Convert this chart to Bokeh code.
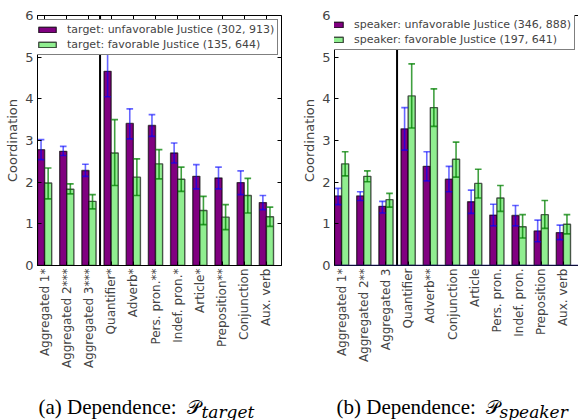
import numpy as np
from bokeh.plotting import figure
from bokeh.models import (Range1d, LinearAxis, FixedTicker, Span, ColumnDataSource,
                          Legend, LegendItem)
from bokeh.layouts import column, row
from bokeh.embed import file_html
from bokeh.resources import INLINE
from bokeh.core.properties import value

# ---------------- data ----------------
target_categories = ["Aggregated 1*", "Aggregated 2***", "Aggregated 3***", "Quantifier*",
                     "Adverb*", "Pers. pron.**", "Indef. pron.*", "Article*",
                     "Preposition**", "Conjunction", "Aux. verb"]
target_unfav = [2.78, 2.74, 2.28, 4.66, 3.41, 3.36, 2.70, 2.14, 2.10, 1.99, 1.51]
target_unfav_lo = [2.54, 2.64, 2.14, 4.05, 3.04, 3.10, 2.46, 1.84, 1.84, 1.70, 1.34]
target_unfav_hi = [3.02, 2.86, 2.43, 5.27, 3.76, 3.62, 2.94, 2.42, 2.36, 2.27, 1.68]
target_fav = [1.98, 1.83, 1.54, 2.70, 2.12, 2.44, 2.07, 1.32, 1.16, 1.68, 1.17]
target_fav_lo = [1.60, 1.72, 1.36, 1.92, 1.68, 2.08, 1.78, 0.98, 0.86, 1.26, 0.94]
target_fav_hi = [2.34, 1.96, 1.70, 3.50, 2.56, 2.78, 2.36, 1.66, 1.46, 2.09, 1.40]
target_labels = ["target: unfavorable Justice (302, 913)", "target: favorable Justice (135, 644)"]

speaker_categories = ["Aggregated 1*", "Aggregated 2**", "Aggregated 3", "Quantifier",
                      "Adverb**", "Conjunction", "Article", "Pers. pron.",
                      "Indef. pron.", "Preposition", "Aux. verb"]
speaker_unfav = [1.67, 1.67, 1.42, 3.28, 2.38, 2.07, 1.53, 1.21, 1.20, 0.83, 0.79]
speaker_unfav_lo = [1.46, 1.56, 1.26, 2.77, 2.03, 1.77, 1.25, 0.95, 0.95, 0.57, 0.62]
speaker_unfav_hi = [1.85, 1.77, 1.54, 3.79, 2.73, 2.38, 1.81, 1.47, 1.44, 1.09, 0.97]
speaker_fav = [2.44, 2.14, 1.58, 4.07, 3.79, 2.55, 1.97, 1.62, 0.93, 1.22, 0.99]
speaker_fav_lo = [2.15, 2.01, 1.40, 3.30, 3.34, 2.12, 1.62, 1.30, 0.66, 0.89, 0.76]
speaker_fav_hi = [2.73, 2.27, 1.73, 4.84, 4.24, 2.96, 2.31, 1.92, 1.22, 1.56, 1.22]
speaker_labels = ["speaker: unfavorable Justice (346, 888)", "speaker: favorable Justice (197, 641)"]

y_ticks = [0, 1, 2, 3, 4, 5, 6]

BAR_W = 0.32
CAP_W = 0.15
PURPLE = "#800080"
LGREEN = "#90ee90"
FONT = "DejaVu Sans"
ROW_H = 376
TOP_B = 15


def hidden_axis(ticker, draw_line):
    return LinearAxis(ticker=ticker, major_label_text_font_size="1px",
                      major_label_text_alpha=0, major_label_standoff=0,
                      major_tick_in=4, major_tick_out=0, minor_tick_line_color=None,
                      axis_line_color="black" if draw_line else None)


def make_fig(cats, unfav, ulo, uhi, fav, flo, fhi, labels, frame_h, bl, br, right_axis,
             navy_base, legend_loc):
    n = len(cats)
    idx = np.arange(n)
    p = figure(width=bl + 244 + br, height=ROW_H, output_backend="svg",
               toolbar_location=None, x_range=Range1d(-BAR_W, n - BAR_W),
               y_range=Range1d(0, 6), min_border_left=bl, min_border_right=br,
               min_border_top=TOP_B, min_border_bottom=ROW_H - TOP_B - frame_h,
               background_fill_color="white", border_fill_color="white")
    p.outline_line_color = "black" if right_axis else None
    p.xgrid.visible = False
    p.ygrid.visible = False

    src_u = ColumnDataSource(dict(x=idx - BAR_W / 2, top=unfav, lo=ulo, hi=uhi))
    src_f = ColumnDataSource(dict(x=idx + BAR_W / 2, top=fav, lo=flo, hi=fhi))

    r1 = p.vbar(x="x", top="top", width=BAR_W, bottom=0, source=src_u, fill_color=PURPLE,
                line_color="black", line_alpha=0.65, line_width=1.4)
    r2 = p.vbar(x="x", top="top", width=BAR_W, bottom=0, source=src_f, fill_color=LGREEN,
                line_color="black", line_alpha=0.65, line_width=1.4)

    for src, col, alpha in ((src_u, "blue", 0.6), (src_f, "green", 0.75)):
        d = src.data
        xs = np.asarray(d["x"])
        p.segment(x0=xs, x1=xs, y0=d["lo"], y1=d["hi"], line_color=col,
                  line_alpha=alpha, line_width=1.6)
        p.segment(x0=xs - CAP_W, x1=xs + CAP_W, y0=d["lo"], y1=d["lo"], line_color=col,
                  line_alpha=alpha, line_width=1.6)
        p.segment(x0=xs - CAP_W, x1=xs + CAP_W, y0=d["hi"], y1=d["hi"], line_color=col,
                  line_alpha=alpha, line_width=1.6)

    p.add_layout(Span(location=2.5, dimension="height", line_color="black", line_width=2))
    if navy_base:
        p.add_layout(Span(location=0, dimension="width", line_color="#1a1a70",
                          line_width=1.5))

    xt = FixedTicker(ticks=list(range(n)))
    yt = FixedTicker(ticks=y_ticks)

    xa = p.xaxis[0]
    xa.ticker = xt
    xa.major_label_overrides = {i: c for i, c in enumerate(cats)}
    xa.major_label_orientation = np.pi / 2
    xa.major_label_text_font = FONT
    xa.major_label_text_font_size = "12px"
    xa.major_label_standoff = 3
    xa.major_tick_in = 4
    xa.major_tick_out = 0
    xa.minor_tick_line_color = None
    xa.axis_line_color = "black"

    ya = p.yaxis[0]
    ya.ticker = yt
    ya.axis_label = "Coordination"
    ya.axis_label_text_font = FONT
    ya.axis_label_text_font_size = "13px"
    ya.axis_label_text_font_style = "normal"
    ya.axis_label_standoff = 2
    ya.major_label_text_font = FONT
    ya.major_label_text_font_size = "13px"
    ya.major_label_standoff = 4
    ya.major_tick_in = 4
    ya.major_tick_out = 0
    ya.minor_tick_line_color = None

    p.add_layout(hidden_axis(xt, not right_axis), "above")
    if right_axis:
        p.add_layout(hidden_axis(yt, False), "right")

    leg = Legend(items=[LegendItem(label=labels[0], renderers=[r1]),
                        LegendItem(label=labels[1], renderers=[r2])],
                 location=legend_loc, orientation="vertical",
                 label_text_font=FONT, label_text_font_size="11px",
                 glyph_width=22, glyph_height=7, label_standoff=9, label_height=13,
                 padding=3, spacing=2, margin=0, border_line_color="black",
                 border_line_width=1, background_fill_color="white",
                 background_fill_alpha=1.0)
    p.add_layout(leg)
    return p


p1 = make_fig(target_categories, target_unfav, target_unfav_lo, target_unfav_hi,
              target_fav, target_fav_lo, target_fav_hi, target_labels,
              250, 37, 9, True, False, (-5, 210))
p2 = make_fig(speaker_categories, speaker_unfav, speaker_unfav_lo, speaker_unfav_hi,
              speaker_fav, speaker_fav_lo, speaker_fav_hi, speaker_labels,
              255, 44, 0, False, True, (-15, 215))

# captions
CAP_H = 420 - ROW_H
cap = figure(width=578, height=CAP_H, output_backend="svg", toolbar_location=None,
             x_range=Range1d(0, 578), y_range=Range1d(CAP_H, 0), min_border=0,
             background_fill_color="white", border_fill_color="white")
cap.axis.visible = False
cap.grid.visible = False
cap.outline_line_color = None

cap_main = ["(a) Dependence: ", "(b) Dependence: "]
cap_sub = ["target", "speaker"]
cap_x = [38, 336]
cap_px = [186, 485]
cap_subx = [201, 499]

cap.text(x=cap_x, y=[30, 30], text=cap_main, text_font=value("Liberation Serif"),
         text_font_size="21px", text_baseline="alphabetic", text_color="black")
cap.text(x=cap_px, y=[30, 30], text=["\U0001D4AB", "\U0001D4AB"],
         text_font=value("DejaVu Serif"), text_font_size="19px",
         text_baseline="alphabetic", text_color="black")
cap.text(x=cap_subx, y=[35, 35], text=cap_sub, text_font=value("DejaVu Serif"),
         text_font_size="17px", text_font_style="italic",
         text_baseline="alphabetic", text_color="black")

layout = column(row(p1, p2), cap)
open("out.html", "w").write(file_html(layout, INLINE))
